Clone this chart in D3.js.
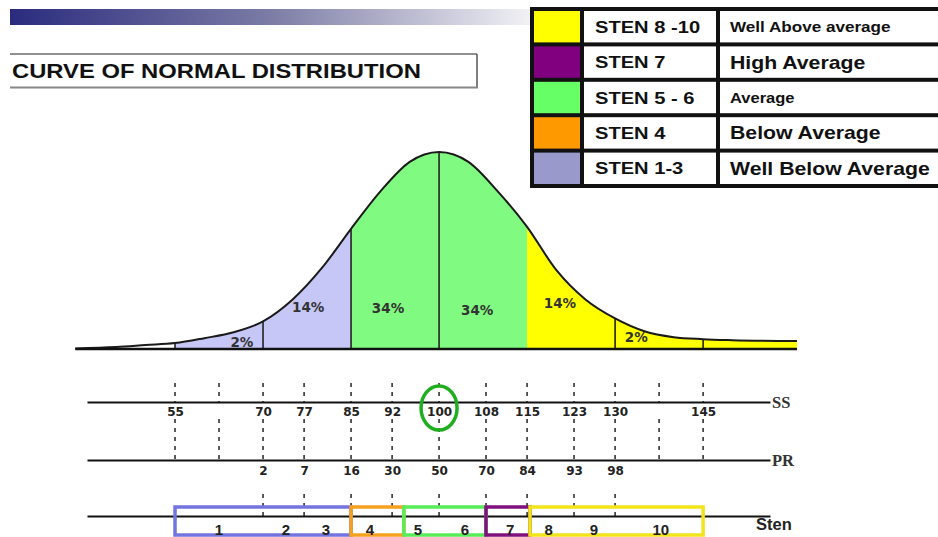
<!DOCTYPE html>
<html><head><meta charset="utf-8">
<script src="https://cdn.jsdelivr.net/npm/d3@7"></script>
<style>body{margin:0;background:#fff;overflow:hidden}</style>
</head><body><svg id="c" width="938" height="537"></svg>
<script>
// ---------- DATA ----------
// Standard-score (SS) points along the drawn curve and the curve height (peak = 1)
const curveSS     = [38, 45, 50, 55, 60, 65, 70, 75, 80, 85, 90, 95, 100, 105, 110, 115, 120, 125, 130, 135, 140, 145, 150, 161];
const curveHeight = [0.003, 0.01, 0.02, 0.03, 0.055, 0.085, 0.14, 0.25, 0.41, 0.61, 0.80, 0.95, 1, 0.95, 0.80, 0.62, 0.40, 0.25, 0.155, 0.09, 0.06, 0.05, 0.045, 0.04];
// vertical division lines inside the curve (SS)
const divisionSS = [55, 70, 85, 100, 130, 145];
// coloured bands under the curve (SS)
const bandFrom = [55, 85, 115];
const bandTo   = [85, 115, 161];
// percentage labels and where they sit (SS, curve-height units)
const pctLabels = ["2%", "14%", "34%", "34%", "14%", "2%"];
const pctSS     = [66.4, 77.7, 91.3, 106.5, 120.6, 133.6];
const pctLevel  = [0.035, 0.213, 0.208, 0.198, 0.234, 0.06];
// SS axis
const ssTicks  = [55, 62.5, 70, 77, 85, 92, 100, 108, 115, 123, 130, 137.5, 145];
const ssLabels = ["55", "", "70", "77", "85", "92", "100", "108", "115", "123", "130", "", "145"];
// PR axis (percentile ranks at SS positions)
const prAtSS   = [70, 77, 85, 92, 100, 108, 115, 123, 130];
const prLabels = ["2", "7", "16", "30", "50", "70", "84", "93", "98"];
// Sten axis
const stenLabels = ["1", "2", "3", "4", "5", "6", "7", "8", "9", "10"];
const stenAtSS   = [62.5, 73.9, 80.7, 88.2, 96.4, 104.4, 112.1, 118.7, 126.4, 137.8];
const stenGroupFrom = [55, 85, 94, 108, 115.5];
const stenGroupTo   = [85, 94, 108, 115.5, 145];
// legend
const legendSten = ["STEN 8 -10", "STEN 7", "STEN 5 - 6", "STEN 4", "STEN 1-3"];
const legendDesc = ["Well Above  average", "High Average", "Average", "Below Average", "Well Below Average"];

// ---------- STYLES ----------
const bandColors = ["#c6c6f7", "#80fa80", "#ffff00"];
const stenBoxColors = ["#7474e0", "#f5a01e", "#58ec58", "#80107e", "#f2e41a"];
const legendColors = ["#ffff00", "#800080", "#66ff66", "#ff9900", "#9999cc"];
const legendDescSize = [14.5, 18, 14, 18, 18];
const SX = 1.18; // horizontal stretch of the original slide text

const svg = d3.select("#c");
const defs = svg.append("defs");

// scales
const x = d3.scaleLinear().domain([40, 156.4]).range([87, 770]);
const yC = d3.scaleLinear().domain([0, 1]).range([349, 152]);

function stretchedText(parent, tx, ty, txt, sx) {
  const g = parent.append("g").attr("transform", `translate(${tx},${ty}) scale(${sx || SX},1)`);
  return g.append("text").text(txt);
}

// ---------- header bar ----------
const grad = defs.append("linearGradient").attr("id", "hdr").attr("x1", 0).attr("x2", 1);
grad.append("stop").attr("offset", 0).attr("stop-color", "#2a2b7e");
grad.append("stop").attr("offset", 0.5).attr("stop-color", "#7c7ca6");
grad.append("stop").attr("offset", 1).attr("stop-color", "#f2f2f6");
svg.append("rect").attr("x", 10).attr("y", 9).attr("width", 522).attr("height", 16).attr("fill", "url(#hdr)");

// ---------- title box ----------
svg.append("line").attr("x1", 10).attr("x2", 477).attr("y1", 54).attr("y2", 54).attr("stroke", "#222").attr("stroke-width", 1.2);
svg.append("line").attr("x1", 477).attr("x2", 477).attr("y1", 54).attr("y2", 88).attr("stroke", "#555").attr("stroke-width", 1.5);
svg.append("line").attr("x1", 10).attr("x2", 478).attr("y1", 87.5).attr("y2", 87.5).attr("stroke", "#888").attr("stroke-width", 2);
stretchedText(svg, 12, 78, "CURVE OF NORMAL DISTRIBUTION", 1.22)
  .attr("font-family", "Liberation Sans, Arial, sans-serif").attr("font-weight", "bold")
  .attr("font-size", 19.5).attr("fill", "#111");

// ---------- curve ----------
const pts = curveSS.map((s, i) => [s, curveHeight[i]]);
const area = d3.area().x(d => x(d[0])).y0(yC(0)).y1(d => yC(d[1])).curve(d3.curveMonotoneX);
const line = d3.line().x(d => x(d[0])).y(d => yC(d[1])).curve(d3.curveMonotoneX);

bandFrom.forEach((f, i) => {
  defs.append("clipPath").attr("id", "band" + i).append("rect")
    .attr("x", x(f)).attr("y", 0).attr("width", x(bandTo[i]) - x(f)).attr("height", yC(0));
  svg.append("path").datum(pts).attr("d", area).attr("fill", bandColors[i]).attr("clip-path", `url(#band${i})`);
});
divisionSS.forEach(s => {
  const h = curveHeight[curveSS.indexOf(s)];
  svg.append("line").attr("x1", x(s)).attr("x2", x(s)).attr("y1", yC(0)).attr("y2", yC(h))
    .attr("stroke", "#222").attr("stroke-width", 1.6);
});
svg.append("path").datum(pts).attr("d", line).attr("fill", "none").attr("stroke", "#1a1a1a").attr("stroke-width", 2);
svg.append("line").attr("x1", x(curveSS[0])).attr("x2", x(curveSS[curveSS.length - 1]))
  .attr("y1", yC(0)).attr("y2", yC(0)).attr("stroke", "#111").attr("stroke-width", 2.5);

pctLabels.forEach((t, i) => {
  svg.append("text").attr("x", x(pctSS[i])).attr("y", yC(pctLevel[i]) + 5)
    .attr("text-anchor", "middle").attr("font-family", "DejaVu Sans, sans-serif")
    .attr("font-weight", "bold").attr("font-size", 13.5).attr("fill", "#333").text(t);
});

// ---------- axes ----------
const Y_SS = 402, Y_PR = 460, Y_STEN = 516;
const dashStyle = sel => sel.attr("stroke", "#333").attr("stroke-width", 1.6).attr("stroke-dasharray", "4,5");
ssTicks.forEach(s => {
  svg.append("line").attr("x1", x(s)).attr("x2", x(s)).attr("y1", 383).attr("y2", Y_SS).call(dashStyle);
  svg.append("line").attr("x1", x(s)).attr("x2", x(s)).attr("y1", 419).attr("y2", Y_PR).call(dashStyle);
});
prAtSS.forEach(s => {
  svg.append("line").attr("x1", x(s)).attr("x2", x(s)).attr("y1", 494).attr("y2", Y_STEN).call(dashStyle);
});

function axisStyle(g) {
  g.select(".domain").attr("stroke", "#111").attr("stroke-width", 2);
  g.selectAll(".tick line").remove();
  g.selectAll("text").attr("font-family", "DejaVu Sans, sans-serif").attr("font-weight", "bold")
    .attr("font-size", 12).attr("fill", "#222");
}
svg.append("g").attr("transform", `translate(0,${Y_SS})`)
  .call(d3.axisBottom(x).tickValues(ssTicks).tickFormat((d, i) => ssLabels[i]).tickSize(0).tickSizeOuter(0).tickPadding(5))
  .call(axisStyle);
svg.append("g").attr("transform", `translate(0,${Y_PR})`)
  .call(d3.axisBottom(x).tickValues(prAtSS).tickFormat((d, i) => prLabels[i]).tickSize(0).tickSizeOuter(0).tickPadding(6))
  .call(axisStyle);
svg.append("g").attr("transform", `translate(0,${Y_STEN})`)
  .call(d3.axisBottom(x).tickValues([]).tickSize(0).tickSizeOuter(0))
  .call(axisStyle);

svg.append("text").attr("x", x.range()[1] + 2).attr("y", Y_SS + 6).text("SS")
  .attr("font-family", "Liberation Serif, serif").attr("font-weight", "bold").attr("font-size", 16.5).attr("fill", "#333");
svg.append("text").attr("x", x.range()[1] + 2).attr("y", Y_PR + 6).text("PR")
  .attr("font-family", "Liberation Serif, serif").attr("font-weight", "bold").attr("font-size", 16.5).attr("fill", "#333");
svg.append("text").attr("x", 756).attr("y", 530).text("Sten")
  .attr("font-family", "Liberation Sans, Arial, sans-serif").attr("font-weight", "bold").attr("font-size", 16.5).attr("fill", "#222");

svg.append("ellipse").attr("cx", x(100)).attr("cy", 408).attr("rx", 18).attr("ry", 22)
  .attr("fill", "none").attr("stroke", "#1fae1f").attr("stroke-width", 3.5);

stenGroupFrom.forEach((f, i) => {
  svg.append("rect").attr("x", x(f)).attr("y", 507).attr("width", x(stenGroupTo[i]) - x(f)).attr("height", 28)
    .attr("fill", "none").attr("stroke", stenBoxColors[i]).attr("stroke-width", 3.5);
});
stenLabels.forEach((t, i) => {
  svg.append("text").attr("x", x(stenAtSS[i])).attr("y", 535).attr("text-anchor", "middle").text(t)
    .attr("font-family", "Liberation Sans, Arial, sans-serif").attr("font-weight", "bold")
    .attr("font-size", 15).attr("fill", "#222");
});

// ---------- legend table ----------
const rowY = d3.scaleBand().domain(d3.range(legendSten.length)).range([9, 186]);
svg.append("rect").attr("x", 530).attr("y", 7).attr("width", 410).attr("height", 181).attr("fill", "#111");
legendSten.forEach((t, i) => {
  const y0 = rowY(i) + 2, h = rowY.bandwidth() - 4;
  svg.append("rect").attr("x", 534).attr("y", y0).attr("width", 46).attr("height", h).attr("fill", legendColors[i]);
  svg.append("rect").attr("x", 584).attr("y", y0).attr("width", 132).attr("height", h).attr("fill", "#fff");
  svg.append("rect").attr("x", 720).attr("y", y0).attr("width", 220).attr("height", h).attr("fill", "#fff");
  const cy = rowY(i) + rowY.bandwidth() / 2;
  stretchedText(svg, 595, cy + 6, t, 1.22)
    .attr("font-family", "Liberation Sans, Arial, sans-serif").attr("font-weight", "bold")
    .attr("font-size", 16.5).attr("fill", "#111");
  stretchedText(svg, 730, cy + legendDescSize[i] * 0.36, legendDesc[i])
    .attr("font-family", "Liberation Sans, Arial, sans-serif").attr("font-weight", "bold")
    .attr("font-size", legendDescSize[i]).attr("fill", "#111");
});
</script></body></html>
